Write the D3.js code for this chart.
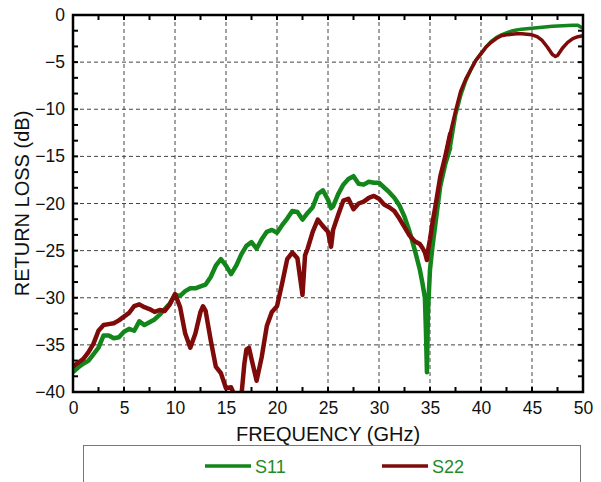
<!DOCTYPE html>
<html>
<head>
<meta charset="utf-8">
<script src="https://cdn.jsdelivr.net/npm/d3@7"></script>
<style>
  body { margin: 0; background: #fff; }
  text { font-family: "Liberation Sans", Arial, sans-serif; }
</style>
</head>
<body>
<div id="chart"></div>
<script>
// frequency points (GHz) and return loss (dB)
const freqS11 = [0,0.5,1,1.5,2,2.5,3,3.5,4,4.5,5,5.5,6,6.5,7,7.5,8,8.5,9,9.5,10,10.5,11,11.5,12,12.5,13,13.5,14,14.5,15,15.5,16,16.5,17,17.5,18,18.5,19,19.5,20,20.5,21,21.5,22,22.5,23,23.5,24,24.5,25,25.3,25.5,26,26.5,27,27.5,28,28.5,29,29.5,30,30.5,31,31.5,32,32.5,33,33.5,34,34.25,34.5,34.6,34.7,34.8,35,35.25,35.5,36,36.5,37,37.5,38,38.5,39,39.5,40,40.5,41,41.5,42,42.5,43,43.5,44,44.5,45,46,47,48,49,49.5,50];
const s11 = [-37.9,-37.4,-37.0,-36.7,-36.0,-35.3,-34.0,-34.0,-34.3,-34.2,-33.6,-33.3,-33.5,-32.5,-32.9,-32.6,-32.3,-31.8,-31.2,-30.6,-29.7,-29.8,-29.3,-29.0,-29.0,-28.8,-28.6,-27.8,-26.6,-25.9,-26.6,-27.5,-26.6,-25.4,-24.5,-24.1,-24.8,-23.8,-23.0,-22.8,-23.1,-22.3,-21.6,-20.8,-20.9,-21.7,-21.0,-20.4,-19.0,-18.6,-19.6,-20.5,-20.3,-19.0,-18.0,-17.4,-17.1,-17.9,-18.0,-17.7,-17.8,-17.8,-18.3,-18.8,-19.4,-20.2,-21.4,-23.0,-24.9,-27.0,-28.4,-30.0,-33.5,-37.9,-31.5,-27.0,-24.5,-22.4,-18.2,-15.8,-14.0,-10.7,-8.6,-7.0,-5.8,-4.8,-4.1,-3.4,-2.8,-2.4,-2.1,-1.9,-1.7,-1.6,-1.5,-1.45,-1.4,-1.3,-1.2,-1.15,-1.1,-1.1,-1.4];

const freqS22 = [0,0.5,1,1.5,2,2.5,3,3.5,4,4.5,5,5.5,6,6.5,7,7.5,8,8.5,9,9.5,10,10.5,11,11.5,12,12.5,12.75,13,13.5,14,14.5,15,15.5,16,16.5,16.8,17,17.25,17.5,18,18.5,19,19.5,20,20.5,21,21.5,22,22.5,22.75,23,23.5,24,24.5,25,25.3,25.5,26,26.5,27,27.5,28,28.5,29,29.5,30,30.5,31,31.5,32,32.5,33,33.5,34,34.25,34.5,34.6,34.7,34.8,35,35.25,35.5,36,36.5,37,37.5,38,38.5,39,39.5,40,40.5,41,41.5,42,42.5,43,43.5,44,44.5,45,45.5,46,46.5,47,47.3,47.5,48,48.5,49,49.5,50];
const s22 = [-37.3,-36.9,-36.5,-35.8,-34.9,-33.5,-32.9,-32.8,-32.7,-32.4,-32.0,-31.6,-30.9,-30.7,-31.0,-31.2,-31.5,-31.3,-31.4,-30.7,-29.6,-31.0,-33.8,-35.3,-33.8,-31.5,-30.9,-31.4,-34.5,-37.3,-38.0,-39.6,-39.5,-40.8,-40.5,-37.0,-35.5,-35.3,-36.5,-38.8,-36.3,-33.0,-31.5,-30.9,-28.5,-25.9,-25.2,-25.8,-29.7,-25.5,-24.8,-23.0,-21.7,-22.4,-23.0,-24.6,-22.8,-21.2,-19.7,-19.5,-20.6,-20.0,-19.8,-19.4,-19.2,-19.5,-20.1,-20.4,-20.8,-21.6,-22.5,-23.4,-24.0,-24.3,-24.7,-25.2,-25.6,-26.0,-25.0,-23.8,-22.0,-20.5,-17.2,-15.0,-12.5,-10.2,-8.1,-6.8,-5.8,-4.8,-4.1,-3.4,-2.9,-2.5,-2.2,-2.1,-2.05,-2.0,-2.0,-2.05,-2.1,-2.3,-2.7,-3.4,-4.2,-4.4,-4.3,-3.5,-2.9,-2.5,-2.3,-2.2];

const xTicks = [0,5,10,15,20,25,30,35,40,45,50];
const yTicks = [0,-5,-10,-15,-20,-25,-30,-35,-40];
const seriesNames = ["S11", "S22"];
const seriesColors = ["#12861a", "#7f0a0a"];

const width = 601, height = 482;
const margin = { top: 15, right: 18, bottom: 90, left: 73 };

const svg = d3.select("#chart").append("svg")
  .attr("width", width)
  .attr("height", height);

const x = d3.scaleLinear().domain([0, 50]).range([margin.left, width - margin.right]);
const y = d3.scaleLinear().domain([-40, 0]).range([height - margin.bottom, margin.top]);

// dashed grid
svg.append("g").selectAll("line")
  .data(xTicks.slice(1, -1))
  .join("line")
  .attr("x1", d => x(d)).attr("x2", d => x(d))
  .attr("y1", y(0)).attr("y2", y(-40))
  .attr("stroke", "#444").attr("stroke-width", 1).attr("stroke-dasharray", "4,3");
svg.append("g").selectAll("line")
  .data(yTicks.slice(1, -1))
  .join("line")
  .attr("y1", d => y(d)).attr("y2", d => y(d))
  .attr("x1", x(0)).attr("x2", x(50))
  .attr("stroke", "#444").attr("stroke-width", 1).attr("stroke-dasharray", "4,3");

// minor ticks inward on all four sides
const xMinor = d3.range(0, 50.01, 2.5);
const yMinor = d3.range(-40, 0.01, 5 / 3);
const tk = svg.append("g").attr("stroke", "#000").attr("stroke-width", 2);
xMinor.forEach(v => {
  tk.append("line").attr("x1", x(v)).attr("x2", x(v)).attr("y1", y(-40)).attr("y2", y(-40) - 5);
  tk.append("line").attr("x1", x(v)).attr("x2", x(v)).attr("y1", y(0)).attr("y2", y(0) + 5);
});
yMinor.forEach(v => {
  tk.append("line").attr("y1", y(v)).attr("y2", y(v)).attr("x1", x(0)).attr("x2", x(0) + 5);
  tk.append("line").attr("y1", y(v)).attr("y2", y(v)).attr("x1", x(50)).attr("x2", x(50) - 5);
});

// curves
svg.append("clipPath").attr("id", "plot")
  .append("rect")
  .attr("x", x(0)).attr("y", y(0))
  .attr("width", x(50) - x(0)).attr("height", y(-40) - y(0));

const line = d3.line()
  .x(d => x(d[0]))
  .y(d => y(d[1]));

const s11Pts = freqS11.map((f, i) => [f, s11[i]]);
const s22Pts = freqS22.map((f, i) => [f, s22[i]]);

// measured traces are noisy below ~37 GHz, which makes them look thicker there
const curves = svg.append("g").attr("clip-path", "url(#plot)");
[s11Pts, s22Pts].forEach((pts, i) => {
  curves.append("path")
    .datum(pts.filter(p => p[0] <= 37))
    .attr("fill", "none")
    .attr("stroke", seriesColors[i])
    .attr("stroke-width", 4.5)
    .attr("stroke-linejoin", "round")
    .attr("d", line);
  curves.append("path")
    .datum(pts.filter(p => p[0] >= 36.5))
    .attr("fill", "none")
    .attr("stroke", seriesColors[i])
    .attr("stroke-width", 3.5)
    .attr("stroke-linejoin", "round")
    .attr("d", line);
});

// frame
svg.append("rect")
  .attr("x", x(0)).attr("y", y(0))
  .attr("width", x(50) - x(0)).attr("height", y(-40) - y(0))
  .attr("fill", "none").attr("stroke", "#000").attr("stroke-width", 2.5);

// axes (labels only, ticks drawn above)
svg.append("g")
  .attr("transform", `translate(0,${y(-40)})`)
  .call(d3.axisBottom(x).tickValues(xTicks).tickSize(0).tickPadding(10))
  .call(g => g.select(".domain").remove())
  .selectAll("text").attr("font-size", 17.5).attr("fill", "#111")
  .style("font-family", "'Liberation Sans', Arial, sans-serif");

svg.append("g")
  .attr("transform", `translate(${x(0)},0)`)
  .call(d3.axisLeft(y).tickValues(yTicks).tickSize(0).tickPadding(8))
  .call(g => g.select(".domain").remove())
  .selectAll("text").attr("font-size", 17.5).attr("fill", "#111")
  .style("font-family", "'Liberation Sans', Arial, sans-serif");

// axis titles
svg.append("text")
  .attr("x", 328).attr("y", 441)
  .attr("text-anchor", "middle")
  .attr("font-size", 20).attr("fill", "#111")
  .text("FREQUENCY (GHz)");

svg.append("text")
  .attr("transform", `translate(29,${(y(0) + y(-40)) / 2}) rotate(-90)`)
  .attr("text-anchor", "middle")
  .attr("font-size", 20).attr("fill", "#111")
  .text("RETURN LOSS (dB)");

// legend
svg.append("rect")
  .attr("x", 83.5).attr("y", 445.5)
  .attr("width", 497).attr("height", 60)
  .attr("fill", "none").attr("stroke", "#777").attr("stroke-width", 1);

const legendX = [205, 382];
seriesNames.forEach((name, i) => {
  svg.append("line")
    .attr("x1", legendX[i]).attr("x2", legendX[i] + 46)
    .attr("y1", 466).attr("y2", 466)
    .attr("stroke", seriesColors[i]).attr("stroke-width", 3.5);
  svg.append("text")
    .attr("x", legendX[i] + 50).attr("y", 472.5)
    .attr("font-size", 18).attr("fill", "#1e8c28")
    .text(name);
});
</script>
</body>
</html>
